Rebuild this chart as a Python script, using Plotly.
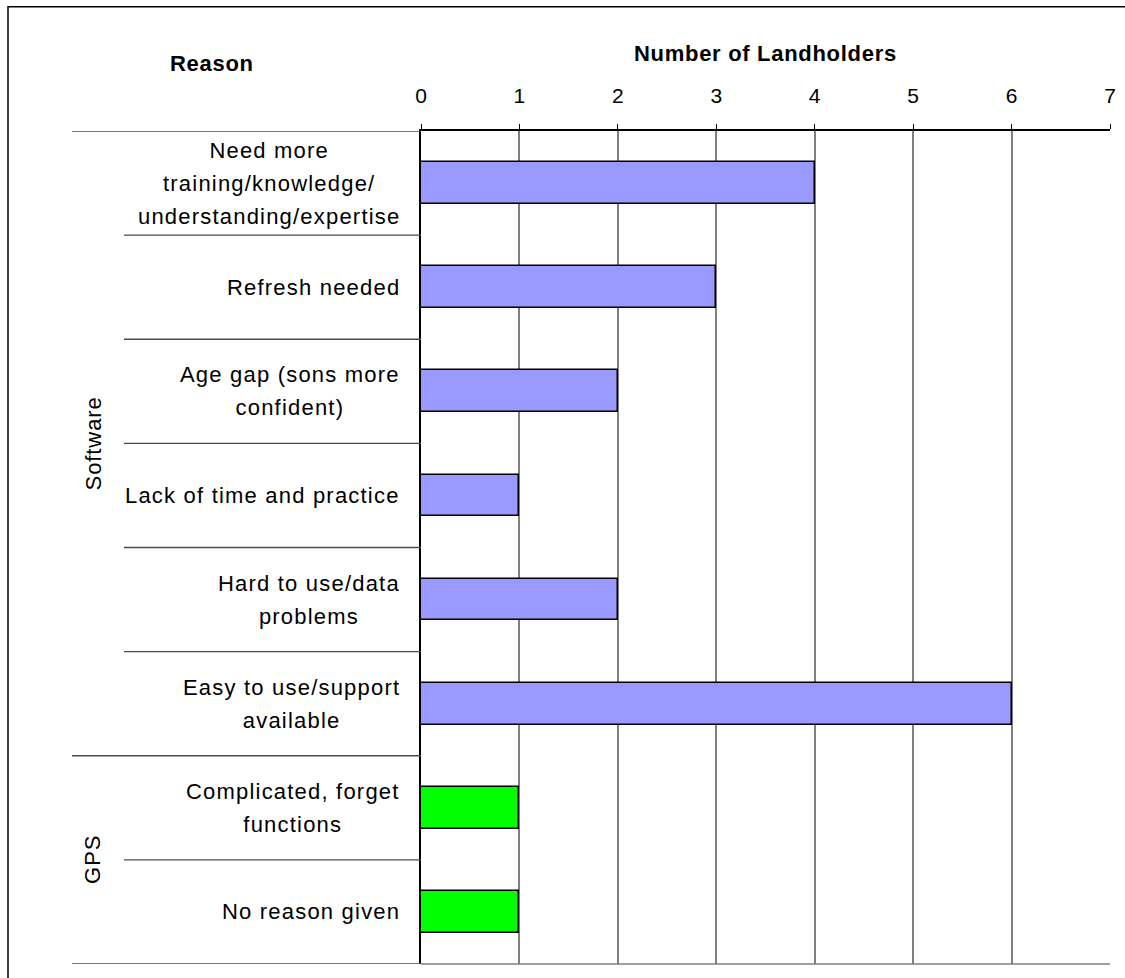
import plotly.graph_objects as go

# Reasons (each entry is the list of lines shown for that row)
reason_lines = [
    ["Need more", "training/knowledge/", "understanding/expertise"],
    ["Refresh needed"],
    ["Age gap (sons more", "confident)"],
    ["Lack of time and practice"],
    ["Hard to use/data", "problems"],
    ["Easy to use/support", "available"],
    ["Complicated, forget", "functions"],
    ["No reason given"],
]
landholders = [4, 3, 2, 1, 2, 6, 1, 1]
groups = ["Software"] * 6 + ["GPS"] * 2
group_colors = {"Software": "#9999FF", "GPS": "#00FF00"}
x_ticks = [0, 1, 2, 3, 4, 5, 6, 7]

FONT = "Liberation Sans, Arial, sans-serif"
W, H = 1125, 978
ML, MR, MT, MB = 421, 15, 131, 14
PW, PH = W - ML - MR, H - MT - MB


def px_x(px):
    return (px - ML) / PW


def px_y(py):
    return (H - MB - py) / PH


def spaced(text, size, spacing):
    return '<span style="font-size:%spx;letter-spacing:%spx">%s</span>' % (size, spacing, text)


ypos = list(range(len(landholders)))

fig = go.Figure(
    go.Bar(
        x=landholders,
        y=ypos,
        orientation="h",
        width=0.4,
        marker=dict(color=[group_colors[g] for g in groups],
                    line=dict(color="#000000", width=1.5)),
        hoverinfo="x",
    )
)

annotations = []
shapes = []

# Row labels: right-anchored blocks with centred lines
for i, lines in enumerate(reason_lines):
    txt = "<br>".join(spaced(ln, 22, 1.2) for ln in lines)
    annotations.append(dict(
        text=txt, xref="paper", x=0, xshift=-19, xanchor="right",
        yref="y", y=i, yanchor="middle", align="center", showarrow=False,
        font=dict(family=FONT, size=25.5, color="#000000"),
    ))

# Group labels and row separators
group_names = []
for g in groups:
    if g not in group_names:
        group_names.append(g)
for g in group_names:
    idx = [i for i, gg in enumerate(groups) if gg == g]
    annotations.append(dict(
        text=spaced(g, 22, 0.9), xref="paper", x=px_x(93), xanchor="center",
        yref="y", y=(idx[0] + idx[-1]) / 2, yanchor="middle",
        textangle=-90, showarrow=False,
        font=dict(family=FONT, size=22, color="#000000"),
    ))

for b in range(len(landholders) + 1):
    boundary = b == 0 or b == len(landholders) or groups[b] != groups[b - 1]
    shapes.append(dict(
        type="line", xref="paper", yref="y",
        x0=px_x(72 if boundary else 124), x1=0, y0=b - 0.5, y1=b - 0.5,
        line=dict(color="#4a4a4a", width=1.3), layer="above",
    ))

# Bottom edge of the plot area
shapes.append(dict(type="line", xref="paper", yref="paper", x0=0, x1=1, y0=0, y1=0,
                   line=dict(color="#808080", width=1.5)))
# Outer chart frame
shapes.append(dict(type="rect", xref="paper", yref="paper",
                   x0=px_x(8), x1=px_x(1135), y0=px_y(6.7), y1=px_y(995),
                   line=dict(color="#000000", width=1.5)))

annotations.append(dict(
    text="<b>%s</b>" % spaced("Number of Landholders", 22, 0.7), xref="paper", x=0.5,
    xanchor="center", yref="paper", y=px_y(53), yanchor="middle", showarrow=False,
    font=dict(family=FONT, size=22, color="#000000"),
))
annotations.append(dict(
    text="<b>%s</b>" % spaced("Reason", 22, 0.7), xref="paper", x=px_x(212),
    xanchor="center", yref="paper", y=px_y(64), yanchor="middle", showarrow=False,
    font=dict(family=FONT, size=22, color="#000000"),
))

fig.update_layout(
    width=W, height=H,
    margin=dict(l=ML, r=MR, t=MT, b=MB, autoexpand=False),
    paper_bgcolor="#FFFFFF", plot_bgcolor="#FFFFFF",
    showlegend=False,
    font=dict(family=FONT, color="#000000"),
    annotations=annotations,
    shapes=shapes,
    bargap=0,
)
fig.update_xaxes(
    side="top", range=[0, 7], tickvals=x_ticks, ticktext=[str(t) for t in x_ticks],
    ticks="outside", ticklen=5, tickwidth=1, tickcolor="#000000",
    ticklabelstandoff=13,
    showline=True, linecolor="#000000", linewidth=1.5,
    showgrid=True, gridcolor="#808080", gridwidth=1.5, zeroline=False,
    tickfont=dict(family=FONT, size=21, color="#000000"),
)
fig.update_yaxes(
    range=[len(landholders) - 0.5, -0.5], showticklabels=False, ticks="",
    showgrid=False, zeroline=False,
    showline=True, linecolor="#000000", linewidth=1.5,
)

fig.write_html("out.html")
